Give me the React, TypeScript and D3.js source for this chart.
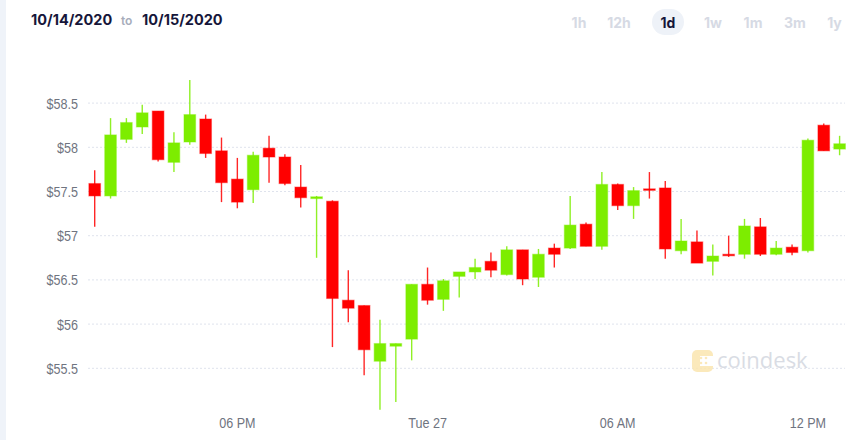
import React from "react";
import * as d3 from "d3";

const opens = [57.59,57.45,58.09,58.23,58.41,57.83,58.06,58.32,57.96,57.64,57.52,57.99,57.89,57.55,57.42,57.39,56.27,56.21,55.58,55.75,55.83,56.45,56.28,56.54,56.59,56.71,56.56,56.84,56.53,56.86,56.86,57.13,56.88,57.58,57.34,57.53,57.54,56.83,56.93,56.71,56.79,56.79,57.10,56.79,56.87,56.83,58.25,57.98];
const highs = [57.74,58.33,58.33,58.48,58.41,58.17,58.76,58.37,58.11,57.88,57.95,58.13,57.92,57.80,57.45,57.40,56.61,56.21,56.05,55.78,56.45,56.64,56.51,56.59,56.74,56.81,56.88,56.84,56.85,56.91,57.45,57.15,57.72,57.59,57.55,57.72,57.62,57.19,57.06,56.90,57.00,57.19,57.20,56.94,56.90,58.10,58.27,58.13];
const lows = [57.10,57.42,58.05,58.15,57.84,57.72,58.03,57.88,57.38,57.31,57.37,57.60,57.57,57.32,56.75,55.74,56.02,55.42,55.03,55.12,55.59,56.22,56.15,56.30,56.51,56.53,56.55,56.44,56.42,56.64,56.85,56.88,56.84,57.29,57.19,57.42,56.74,56.79,56.69,56.55,56.76,56.74,56.77,56.78,56.78,56.81,57.96,57.91];
const closes = [57.45,58.14,58.28,58.39,57.86,58.05,58.37,57.93,57.60,57.38,57.91,57.89,57.59,57.43,57.44,56.29,56.18,55.71,55.78,55.78,56.45,56.27,56.49,56.59,56.64,56.61,56.84,56.51,56.79,56.79,57.12,56.88,57.58,57.34,57.51,57.52,56.85,56.94,56.69,56.77,56.78,57.11,56.79,56.86,56.81,58.08,57.96,58.04];

const startTime = new Date(2020, 9, 26, 13, 30);
const intervalMinutes = 30;
const yTicks = [55.5, 56, 56.5, 57, 57.5, 58, 58.5];
const xTickTimes = [new Date(2020, 9, 26, 18, 0), new Date(2020, 9, 27, 0, 0), new Date(2020, 9, 27, 6, 0), new Date(2020, 9, 27, 12, 0)];
const xTickLabels = ["06 PM", "Tue 27", "06 AM", "12 PM"];
const rangeButtons = ["1h", "12h", "1d", "1w", "1m", "3m", "1y"];
const activeRange = "1d";
const dateFrom = "10/14/2020";
const dateTo = "10/15/2020";

const UP = "#7ded00";
const DOWN = "#ff0000";

export default function App() {
  const times = opens.map((_, i) => d3.timeMinute.offset(startTime, i * intervalMinutes));
  const x = d3.scaleTime().domain([times[0], times[times.length - 1]]).range([94.7, 839.6]);
  const y = d3.scaleLinear().domain([55.5, 58.5]).range([368.3, 103.1]);
  const bodyW = 11.6;
  const btnX = [579, 619, 668, 713, 753, 795, 834.5];
  const axisFont = "'Liberation Sans', Arial, sans-serif";
  const sx = 0.84;

  return (
    <div style={{ position: "absolute", left: 0, top: 0, width: 864, height: 440 }}>
      <svg width={864} height={440} style={{ display: "block" }}>
        <rect x={0} y={0} width={864} height={440} fill="#ffffff" />
        <rect x={0} y={0} width={6} height={440} fill="#eff3f9" />

        {/* header */}
        <text x={31} y={25} fontFamily="Inter, sans-serif" fontWeight={700} fontSize={14.5} fill="#16163a">{dateFrom}</text>
        <text x={121} y={25} fontFamily="Inter, sans-serif" fontWeight={600} fontSize={12} fill="#a7adbb">to</text>
        <text x={142} y={25} fontFamily="Inter, sans-serif" fontWeight={700} fontSize={14.5} fill="#16163a">{dateTo}</text>

        {rangeButtons.map((b, i) => (
          <g key={b}>
            {b === activeRange && <rect x={btnX[i] - 16} y={9} width={32} height={26} rx={13} fill="#eef2f8" />}
            <text x={btnX[i]} y={28} textAnchor="middle" fontFamily="Inter, sans-serif" fontWeight={700} fontSize={14}
              fill={b === activeRange ? "#16163a" : "#d6dae4"}>{b}</text>
          </g>
        ))}

        {/* gridlines */}
        {yTicks.map((t) => (
          <g key={t}>
            <line x1={88} x2={845} y1={y(t)} y2={y(t)} stroke="#dfe3ed" strokeWidth={1} strokeDasharray="2,2" />
            <text transform={`translate(78,${y(t) + 5.5}) scale(${sx},1)`} textAnchor="end" fontFamily={axisFont} fontSize={15} fill="#6f7480">{`$${t}`}</text>
          </g>
        ))}

        {/* watermark */}
        <g opacity={0.85}>
          <rect x={692} y={350} width={21} height={22} rx={5} fill="#fbe6b0" />
          <rect x={700} y={356} width={13} height={10} fill="#ffffff" />
          <circle cx={701} cy={358} r={1.3} fill="#fbe6b0" />
          <circle cx={701} cy={363} r={1.3} fill="#fbe6b0" />
          <circle cx={706} cy={358} r={1.3} fill="#fbe6b0" />
          <circle cx={706} cy={363} r={1.3} fill="#fbe6b0" />
          <text x={717} y={368} fontFamily="'Open Sans', sans-serif" fontSize={22} fill="#d3d7e0">coindesk</text>
        </g>

        {/* candles */}
        {opens.map((o, i) => {
          const c = closes[i];
          const up = c >= o;
          const col = up ? UP : DOWN;
          const cx = x(times[i]);
          const top = y(Math.max(o, c));
          const bot = y(Math.min(o, c));
          const h = Math.max(bot - top, 1.5);
          return (
            <g key={i}>
              <line x1={cx} x2={cx} y1={y(highs[i])} y2={y(lows[i])} stroke={col} strokeWidth={1.4} strokeOpacity={0.85} />
              <rect x={cx - bodyW / 2} y={top} width={bodyW} height={h} fill={col} stroke={col} strokeOpacity={0.4} strokeWidth={1.2} />
            </g>
          );
        })}

        {/* x axis labels */}
        {xTickTimes.map((t, i) => (
          <text key={i} transform={`translate(${x(t)},428) scale(${sx},1)`} textAnchor="middle" fontFamily={axisFont} fontSize={15} fill="#6f7480">{xTickLabels[i]}</text>
        ))}
      </svg>
    </div>
  );
}
